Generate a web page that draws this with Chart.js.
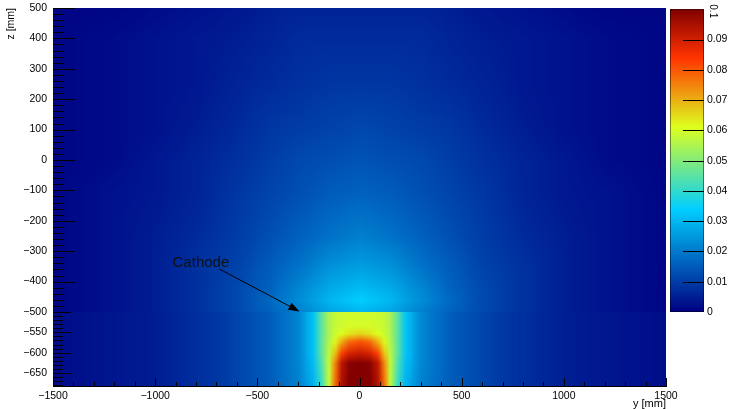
<!DOCTYPE html>
<html>
<head>
<meta charset="utf-8">
<script src="https://cdn.jsdelivr.net/npm/chart.js@4.4.1/dist/chart.umd.min.js"></script>
<style>
    html, body { margin: 0; padding: 0; background: #fff; }
    #wrap { position: relative; width: 734px; height: 409px; }
    #wrap canvas { position: absolute; left: 0; top: 0; }
</style>
</head>
<body>
<div id="wrap">
    <canvas id="main" width="734" height="409"></canvas>
    <canvas id="bar" width="734" height="409"></canvas>
</div>
<script>
// ===== Data =====
const yTicks = [-1500, -1000, -500, 0, 500, 1000, 1500];
const zTicksUp = [-500, -400, -300, -200, -100, 0, 100, 200, 300, 400, 500];
const zTicksLow = [-650, -600, -550];
const cbTicks = [0, 0.01, 0.02, 0.03, 0.04, 0.05, 0.06, 0.07, 0.08, 0.09];

// above the cathode (z from -500 to 500)
const yNodesUp = [-1500, -1200, -1000, -800, -600, -450, -300, -150, 0, 150, 300, 450, 600, 800, 1000, 1200, 1500];
const zNodesUp = [-500, -460, -420, -350, -250, -100, 0, 100, 250, 400, 500];
const fieldUp = [
    [0.001,0.003,0.005,0.008,0.012,0.016,0.021,0.027,0.030,0.027,0.021,0.016,0.012,0.008,0.005,0.003,0.001],
    [0.001,0.003,0.005,0.008,0.012,0.017,0.023,0.030,0.034,0.030,0.023,0.017,0.012,0.008,0.005,0.003,0.001],
    [0.001,0.003,0.005,0.008,0.012,0.016,0.022,0.028,0.031,0.028,0.022,0.016,0.012,0.008,0.005,0.003,0.001],
    [0.001,0.003,0.005,0.008,0.011,0.015,0.019,0.024,0.026,0.024,0.019,0.015,0.011,0.008,0.005,0.003,0.001],
    [0.001,0.003,0.005,0.007,0.010,0.013,0.016,0.019,0.021,0.019,0.016,0.013,0.010,0.007,0.005,0.003,0.001],
    [0.001,0.003,0.004,0.006,0.009,0.011,0.013,0.015,0.016,0.015,0.013,0.011,0.009,0.006,0.004,0.003,0.001],
    [0.001,0.002,0.004,0.006,0.008,0.010,0.012,0.013,0.014,0.013,0.012,0.010,0.008,0.006,0.004,0.002,0.001],
    [0.001,0.002,0.003,0.005,0.007,0.009,0.010,0.011,0.012,0.011,0.010,0.009,0.007,0.005,0.003,0.002,0.001],
    [0.001,0.002,0.003,0.004,0.006,0.007,0.008,0.009,0.009,0.009,0.008,0.007,0.006,0.004,0.003,0.002,0.001],
    [0.001,0.002,0.003,0.004,0.005,0.006,0.007,0.007,0.007,0.007,0.007,0.006,0.005,0.004,0.003,0.002,0.001],
    [0.001,0.001,0.002,0.003,0.004,0.005,0.006,0.006,0.006,0.006,0.006,0.005,0.004,0.003,0.002,0.001,0.001]
];

// below the cathode (z from -682 to -500)
const yNodesLow = [-1500, -1000, -700, -450, -300, -230, -190, -150, -120, -90, -50, 0, 50, 90, 120, 150, 190, 230, 300, 450, 700, 1000, 1500];
const zNodesLow = [-682, -625, -600, -575, -555, -535, -500];
const fieldLow = [
    [0.002,0.005,0.009,0.015,0.021,0.029,0.040,0.058,0.078,0.094,0.100,0.100,0.100,0.094,0.078,0.058,0.040,0.029,0.021,0.015,0.009,0.005,0.002],
    [0.002,0.005,0.009,0.015,0.022,0.031,0.043,0.058,0.075,0.092,0.099,0.100,0.099,0.092,0.075,0.058,0.043,0.031,0.022,0.015,0.009,0.005,0.002],
    [0.002,0.005,0.009,0.015,0.022,0.032,0.045,0.057,0.068,0.082,0.089,0.091,0.089,0.082,0.068,0.057,0.045,0.032,0.022,0.015,0.009,0.005,0.002],
    [0.002,0.005,0.009,0.015,0.022,0.032,0.045,0.056,0.062,0.070,0.078,0.081,0.078,0.070,0.062,0.056,0.045,0.032,0.022,0.015,0.009,0.005,0.002],
    [0.002,0.005,0.009,0.015,0.022,0.032,0.045,0.055,0.059,0.061,0.064,0.066,0.064,0.061,0.059,0.055,0.045,0.032,0.022,0.015,0.009,0.005,0.002],
    [0.002,0.005,0.009,0.015,0.022,0.032,0.045,0.055,0.058,0.059,0.060,0.060,0.060,0.059,0.058,0.055,0.045,0.032,0.022,0.015,0.009,0.005,0.002],
    [0.002,0.005,0.009,0.015,0.022,0.032,0.045,0.055,0.058,0.059,0.059,0.059,0.059,0.059,0.058,0.055,0.045,0.032,0.022,0.015,0.009,0.005,0.002]
];
const zMax = 0.1;

// annotation, in axis units
const labelAt = [-915, -352];
const arrowFrom = [-685, -359];
const arrowTo = [-294, -498];

// ===== Palette (ROOT rainbow) =====
const palStops = [0, 0.34, 0.61, 0.84, 1];
const palR = [0, 0, 0.87, 1, 0.51];
const palG = [0, 0.81, 1, 0.2, 0];
const palB = [0.51, 1, 0.12, 0, 0];
function palette(v) {
    let t = Math.max(0, Math.min(1, v / zMax));
    let i = 0;
    while (i < palStops.length - 2 && t > palStops[i + 1]) i++;
    const f = (t - palStops[i]) / (palStops[i + 1] - palStops[i]);
    return [palR, palG, palB].map(c => Math.round(255 * (c[i] + (c[i + 1] - c[i]) * f)));
}

const font = { family: "'Liberation Sans', Arial, sans-serif", size: 10.5 };
const fmt = v => String(v).replace('-', '\u2212');
// labels sit 6px off the axis without the extra padding Chart.js adds at the ends
const hiddenTicks = { display: true, drawOnChartArea: false, drawTicks: true, tickLength: 6, tickColor: 'rgba(0,0,0,0)' };

// ===== Heatmap cells =====
const cell = document.createElement('canvas');
cell.width = 2; cell.height = 2;
const cellCtx = cell.getContext('2d');
const cellImg = cellCtx.createImageData(2, 2);

function drawField(ctx, xs, zs, rows, xScale, zScale) {
    for (let j = 0; j < zs.length - 1; j++) {
        for (let i = 0; i < xs.length - 1; i++) {
            const x0 = Math.round(xScale.getPixelForValue(xs[i]));
            const x1 = Math.round(xScale.getPixelForValue(xs[i + 1]));
            const yTop = Math.round(zScale.getPixelForValue(zs[j + 1]));
            const yBot = Math.round(zScale.getPixelForValue(zs[j]));
            const w = x1 - x0, h = yBot - yTop;
            if (w <= 0 || h <= 0) continue;
            const corners = [rows[j + 1][i], rows[j + 1][i + 1], rows[j][i], rows[j][i + 1]];
            corners.forEach((v, k) => {
                const c = palette(v);
                cellImg.data[k * 4] = c[0];
                cellImg.data[k * 4 + 1] = c[1];
                cellImg.data[k * 4 + 2] = c[2];
                cellImg.data[k * 4 + 3] = 255;
            });
            cellCtx.putImageData(cellImg, 0, 0);
            ctx.save();
            ctx.beginPath();
            ctx.rect(x0, yTop, w, h);
            ctx.clip();
            ctx.imageSmoothingEnabled = true;
            ctx.imageSmoothingQuality = 'low';
            ctx.drawImage(cell, 0, 0, 2, 2, x0 - w / 2, yTop - h / 2, 2 * w, 2 * h);
            ctx.restore();
        }
    }
}

const heatmap = {
    id: 'heatmap',
    beforeDatasetsDraw(chart) {
        const { ctx, scales } = chart;
        drawField(ctx, yNodesUp, zNodesUp, fieldUp, scales.x, scales.zUp);
        drawField(ctx, yNodesLow, zNodesLow, fieldLow, scales.x, scales.zLow);
    },
    afterDraw(chart) {
        const { ctx, scales, chartArea: a } = chart;
        const sx = scales.x, su = scales.zUp, sl = scales.zLow;
        ctx.save();
        ctx.strokeStyle = '#000';
        ctx.lineWidth = 1;
        ctx.beginPath();
        // inward ticks, ROOT style
        for (let v = -1500; v <= 1500; v += 100) {
            const p = Math.round(sx.getPixelForValue(v)) + 0.5;
            ctx.moveTo(p, a.bottom);
            ctx.lineTo(p, a.bottom - (v % 500 === 0 ? 8 : 4));
        }
        for (let v = -480; v <= 500; v += 20) {
            const p = Math.round(su.getPixelForValue(v)) + 0.5;
            ctx.moveTo(a.left, p);
            ctx.lineTo(a.left + (v % 100 === 0 ? 22 : 11), p);
        }
        for (let v = -680; v <= -500; v += 10) {
            const p = Math.round(sl.getPixelForValue(v)) + 0.5;
            ctx.moveTo(a.left, p);
            ctx.lineTo(a.left + (v % 50 === 0 ? 18 : 10), p);
        }
        ctx.stroke();

        // Cathode annotation
        const fx = sx.getPixelForValue(arrowFrom[0]), fy = su.getPixelForValue(arrowFrom[1]);
        const tx = sx.getPixelForValue(arrowTo[0]), ty = su.getPixelForValue(arrowTo[1]);
        const ang = Math.atan2(ty - fy, tx - fx);
        const hl = 11, hw = 4;
        ctx.beginPath();
        ctx.moveTo(fx, fy);
        ctx.lineTo(tx - hl * Math.cos(ang), ty - hl * Math.sin(ang));
        ctx.stroke();
        ctx.fillStyle = '#000';
        ctx.beginPath();
        ctx.moveTo(tx, ty);
        ctx.lineTo(tx - hl * Math.cos(ang) + hw * Math.sin(ang), ty - hl * Math.sin(ang) - hw * Math.cos(ang));
        ctx.lineTo(tx - hl * Math.cos(ang) - hw * Math.sin(ang), ty - hl * Math.sin(ang) + hw * Math.cos(ang));
        ctx.closePath();
        ctx.fill();
        ctx.font = "15px 'Liberation Sans', Arial, sans-serif";
        ctx.textBaseline = 'alphabetic';
        ctx.textAlign = 'left';
        ctx.fillStyle = '#111';
        ctx.fillText('Cathode', sx.getPixelForValue(labelAt[0]), su.getPixelForValue(labelAt[1]));
        ctx.restore();
    }
};

const zAxis = (min, max, weight, ticks) => ({
    type: 'linear',
    position: 'left',
    stack: 'z',
    stackWeight: weight,
    min: min,
    max: max,
    afterBuildTicks: s => { s.ticks = ticks.map(v => ({ value: v })); },
    afterFit: s => { s.width = 53; },
    grid: hiddenTicks,
    border: { display: true, color: '#000', width: 1 },
    ticks: { font: font, color: '#000', padding: 0, autoSkip: false, callback: v => fmt(v) }
});

const zLow = zAxis(-682, -500, 74, zTicksLow);
const zUp = zAxis(-500, 500, 304, zTicksUp);
zUp.title = { display: true, text: 'z [mm]', align: 'end', color: '#000',
    font: { family: font.family, size: 10.5, lineHeight: 1 }, padding: { top: 6, bottom: 0 } };

new Chart(document.getElementById('main'), {
    type: 'scatter',
    data: { datasets: [] },
    plugins: [heatmap],
    options: {
        responsive: false,
        animation: false,
        devicePixelRatio: 1,
        layout: { padding: { left: 0, right: 68, top: 8, bottom: 0 } },
        plugins: { legend: { display: false }, tooltip: { enabled: false } },
        scales: {
            x: {
                type: 'linear',
                min: -1500,
                max: 1500,
                afterBuildTicks: s => { s.ticks = yTicks.map(v => ({ value: v })); },
                afterFit: s => { s.height = 23; },
                grid: { display: false, drawTicks: false },
                border: { display: true, color: '#000', width: 1 },
                ticks: { font: font, color: '#000', padding: 4, maxRotation: 0, autoSkip: false, callback: v => fmt(v) },
                title: { display: true, text: 'y [mm]', align: 'end', color: '#000',
                    font: { family: font.family, size: 11, lineHeight: 1 }, padding: { top: 0, bottom: 0 } }
            },
            zLow: zLow,
            zUp: zUp
        }
    }
});

// ===== Colour bar =====
const colourBar = {
    id: 'colourBar',
    beforeDatasetsDraw(chart) {
        const { ctx, chartArea: a } = chart;
        const s = chart.scales.cb;
        ctx.save();
        for (let py = Math.round(a.top); py < Math.round(a.bottom); py++) {
            const c = palette(s.getValueForPixel(py + 0.5));
            ctx.fillStyle = `rgb(${c[0]},${c[1]},${c[2]})`;
            ctx.fillRect(a.left, py, a.right - a.left, 1);
        }
        ctx.strokeStyle = 'rgba(0,0,0,0.45)';
        ctx.lineWidth = 1;
        ctx.strokeRect(a.left + 0.5, a.top + 0.5, a.right - a.left - 1, a.bottom - a.top - 1);
        ctx.strokeStyle = '#000';
        ctx.beginPath();
        s.ticks.forEach(t => {
            if (t.value <= 0) return;
            const p = Math.round(s.getPixelForValue(t.value)) + 0.5;
            ctx.moveTo(a.right - 21, p);
            ctx.lineTo(a.right, p);
        });
        ctx.stroke();
        // top label of the bar, drawn turned
        ctx.translate(a.right + 4, a.top - 5);
        ctx.rotate(Math.PI / 2);
        ctx.font = "10px 'Liberation Sans', Arial, sans-serif";
        ctx.fillStyle = '#000';
        ctx.textBaseline = 'middle';
        ctx.textAlign = 'left';
        ctx.fillText('0.1', 0, -5);
        ctx.restore();
    }
};

new Chart(document.getElementById('bar'), {
    type: 'scatter',
    data: { datasets: [] },
    plugins: [colourBar],
    options: {
        responsive: false,
        animation: false,
        devicePixelRatio: 1,
        layout: { padding: { left: 670, right: 0, top: 8, bottom: 97 } },
        plugins: { legend: { display: false }, tooltip: { enabled: false } },
        scales: {
            x: { display: false, min: 0, max: 1 },
            cb: {
                type: 'linear',
                position: 'right',
                min: 0,
                max: zMax,
                afterBuildTicks: s => { s.ticks = cbTicks.map(v => ({ value: v })); },
                afterFit: s => { s.width = 30; },
                grid: { display: false, drawTicks: false },
                border: { display: false },
                ticks: { font: font, color: '#000', padding: 3, autoSkip: false,
                    callback: v => (v === 0 ? '0' : v.toFixed(2)) }
            }
        }
    }
});
</script>
</body>
</html>
